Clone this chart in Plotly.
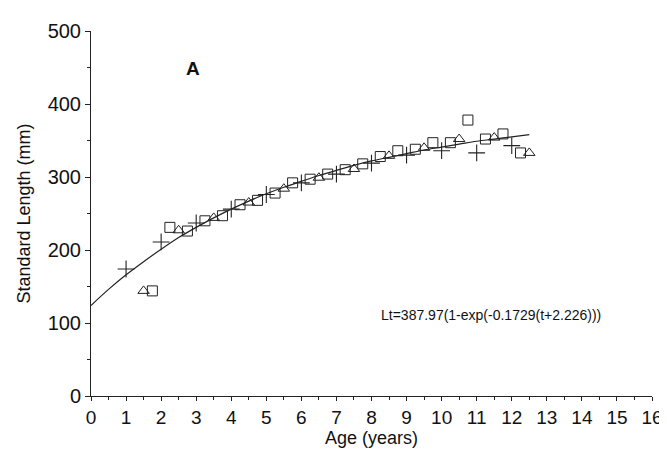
import plotly.graph_objects as go

# Data
cross_age = [1, 2, 3, 4, 5, 6, 7, 8, 9, 10, 11, 12]
cross_sl = [174, 211, 237, 256, 276, 292, 304, 319, 330, 336, 333, 343]

tri_age = [1.5, 2.5, 3.5, 4.5, 5.5, 6.5, 7.5, 8.5, 9.5, 10.5, 11.5, 12.5]
tri_sl = [144, 227, 244, 265, 284, 299, 311, 329, 340, 352, 354, 333]

sq_age = [1.75, 2.25, 2.75, 3.25, 3.75, 4.25, 4.75, 5.25, 5.75, 6.25, 6.75,
          7.25, 7.75, 8.25, 8.75, 9.25, 9.75, 10.25, 10.75, 11.25, 11.75, 12.25]
sq_sl = [144, 231, 226, 240, 247, 262, 268, 278, 292, 297, 304,
         310, 318, 328, 336, 338, 347, 347, 378, 352, 359, 333]

# fitted growth curve
curve_age = [0, 0.5, 1, 1.5, 2, 2.5, 3, 3.5, 4, 4.5, 5, 5.5, 6, 6.5, 7, 7.5,
             8, 8.5, 9, 9.5, 10, 10.5, 11, 11.5, 12, 12.5]
curve_sl = [124, 146, 166, 184, 201, 217, 231, 244, 256, 267, 277, 286, 294,
            302, 309, 316, 322, 327, 332, 337, 341, 345, 349, 352, 355, 358]

x_ticks = list(range(0, 17))
y_ticks = [0, 100, 200, 300, 400, 500]

FONT = "Liberation Sans, Arial, sans-serif"
INK = "#222222"

fig = go.Figure()
fig.add_trace(go.Scatter(x=curve_age, y=curve_sl, mode="lines",
                         line=dict(color=INK, width=1.2, shape="spline"),
                         showlegend=False, hoverinfo="skip"))
fig.add_trace(go.Scatter(x=cross_age, y=cross_sl, mode="markers",
                         marker=dict(symbol="cross-thin-open", size=12, color=INK,
                                     line=dict(color=INK, width=1.1)),
                         showlegend=False))
fig.add_trace(go.Scatter(x=tri_age, y=tri_sl, mode="markers",
                         marker=dict(symbol="triangle-up-open", size=10, color=INK,
                                     line=dict(color=INK, width=1)),
                         showlegend=False))
fig.add_trace(go.Scatter(x=sq_age, y=sq_sl, mode="markers",
                         marker=dict(symbol="square-open", size=10, color=INK,
                                     line=dict(color=INK, width=1)),
                         showlegend=False))

fig.add_annotation(x=2.9, y=448, text="<b>A</b>", showarrow=False,
                   font=dict(family=FONT, size=19, color="#111111"))
fig.add_annotation(x=11.4, y=111, text="Lt=387.97(1-exp(-0.1729(t+2.226)))",
                   showarrow=False, font=dict(family=FONT, size=14, color="#111111"))

fig.update_layout(
    width=667, height=449,
    margin=dict(l=83, r=17, t=20, b=61),
    paper_bgcolor="white", plot_bgcolor="white",
    font=dict(family=FONT, color="#111111"),
)
fig.update_xaxes(range=[0, 16], tickvals=x_ticks, ticks="outside", ticklen=4,
                 tickcolor=INK, showline=True, linecolor=INK, linewidth=1,
                 showgrid=False, zeroline=False, tickfont=dict(size=19),
                 minor=dict(dtick=0.5, ticks="outside", ticklen=3, tickcolor=INK),
                 title=dict(text="Age (years)", font=dict(size=18), standoff=2))
fig.update_yaxes(range=[0, 500], tickvals=y_ticks, ticks="outside", ticklen=5,
                 tickcolor=INK, showline=True, linecolor=INK, linewidth=1,
                 showgrid=False, zeroline=False, tickfont=dict(size=20),
                 minor=dict(dtick=50, ticks="outside", ticklen=3, tickcolor=INK),
                 title=dict(text="Standard Length (mm)", font=dict(size=18), standoff=12))

fig.write_html("out.html")
